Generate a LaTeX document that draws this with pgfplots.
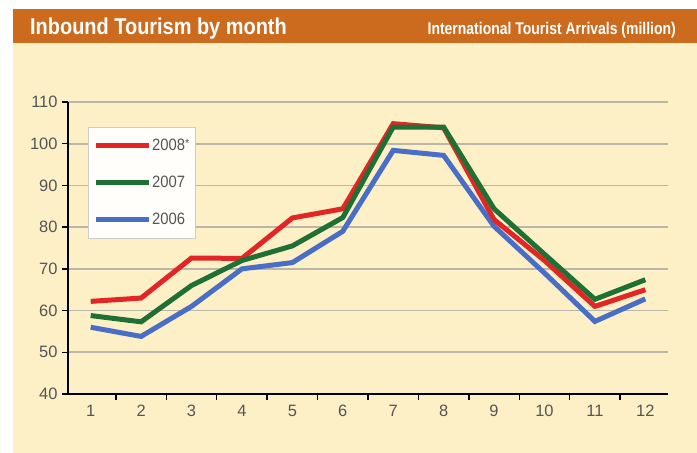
\documentclass[border=0pt]{standalone}
\usepackage{pgfplots}
\pgfplotsset{compat=1.18}
\usepackage{fontspec}
\setmainfont{Liberation Sans}
\newfontfamily\hdr[FakeStretch=0.87]{Liberation Sans}
\newfontfamily\hdrb[FakeStretch=0.825]{Liberation Sans}
\newfontfamily\leg[FakeStretch=0.9]{Liberation Sans}
\definecolor{hdrorange}{RGB}{204,107,30}
\definecolor{bgyellow}{RGB}{254,240,198}
\definecolor{gridgray}{RGB}{186,182,168}
\definecolor{ticktext}{RGB}{85,85,85}
\definecolor{cred}{RGB}{226,38,38}
\definecolor{cgreen}{RGB}{30,112,52}
\definecolor{cblue}{RGB}{72,110,200}
\pgfplotstableread{
m y2008 y2007 y2006
1 62.2 58.8 56.0
2 63.0 57.3 53.8
3 72.6 66.0 61.0
4 72.5 72.0 70.0
5 82.2 75.5 71.5
6 84.4 82.3 79.0
7 104.8 104.0 98.4
8 103.8 104.0 97.2
9 81.8 84.4 80.2
10 72.0 73.5 69.0
11 61.0 62.7 57.4
12 65.0 67.4 62.8
}\datatable
\begin{document}
\begin{tikzpicture}[x=1bp,y=1bp]
\fill[white] (0,0) rectangle (697,453);
\fill[bgyellow] (12.5,0) rectangle (697,410);
\fill[hdrorange] (12.5,410) rectangle (697,444);
\node[anchor=base west,inner sep=0pt,text=white,font=\hdr\bfseries\fontsize{23}{25}\selectfont] at (30,418.5) {Inbound Tourism by month};
\node[anchor=base east,inner sep=0pt,text=white,font=\hdrb\bfseries\fontsize{17}{19}\selectfont] at (676,418.5) {International Tourist Arrivals (million)};
\begin{axis}[
  at={(68bp,59bp)}, anchor=south west,
  scale only axis, width=600bp, height=292bp,
  xmin=0.55, xmax=12.45, ymin=40, ymax=110,
  axis x line*=bottom, axis y line*=left,
  axis line style={black, line width=1.6bp},
  xtick={1,...,12}, ytick={40,50,...,110},
  minor xtick={1.5,2.5,...,11.5},
  major x tick style={draw=none},
  minor x tick style={black, line width=1.4bp},
  minor tick length=6bp,
  major tick length=6bp,
  tick align=outside,
  y tick style={black, line width=1.4bp},
  ymajorgrids, grid style={gridgray, line width=1.8bp},
  tick label style={text=ticktext, font=\fontsize{16.5}{18}\selectfont},
  /pgf/number format/assume math mode=true,
  xticklabel style={yshift=-2bp},
  yticklabel style={xshift=-1bp},
  legend style={at={(20/600,1-25/292)}, anchor=north west, draw=gray!40, fill=white!92!bgyellow,
    font=\leg\fontsize{16.5}{18}\selectfont, text=ticktext, row sep=20bp,
    inner xsep=5bp, inner ysep=10bp, nodes={inner xsep=1bp}},
  legend cell align=left,
  legend image code/.code={\draw[#1] (0bp,0bp) -- (53bp,0bp);},
]
\addlegendimage{cred, line width=5bp}
\addlegendentry{2008\raisebox{0.35ex}{\fontsize{12}{12}\selectfont*}}
\addlegendimage{cgreen, line width=5bp}
\addlegendentry{2007}
\addlegendimage{cblue, line width=5bp}
\addlegendentry{2006}
\addplot[forget plot, cblue, line width=5bp] table[x=m,y=y2006] {\datatable};
\addplot[forget plot, cred, line width=5bp] table[x=m,y=y2008] {\datatable};
\addplot[forget plot, cgreen, line width=5bp] table[x=m,y=y2007] {\datatable};
\end{axis}
\end{tikzpicture}
\end{document}
